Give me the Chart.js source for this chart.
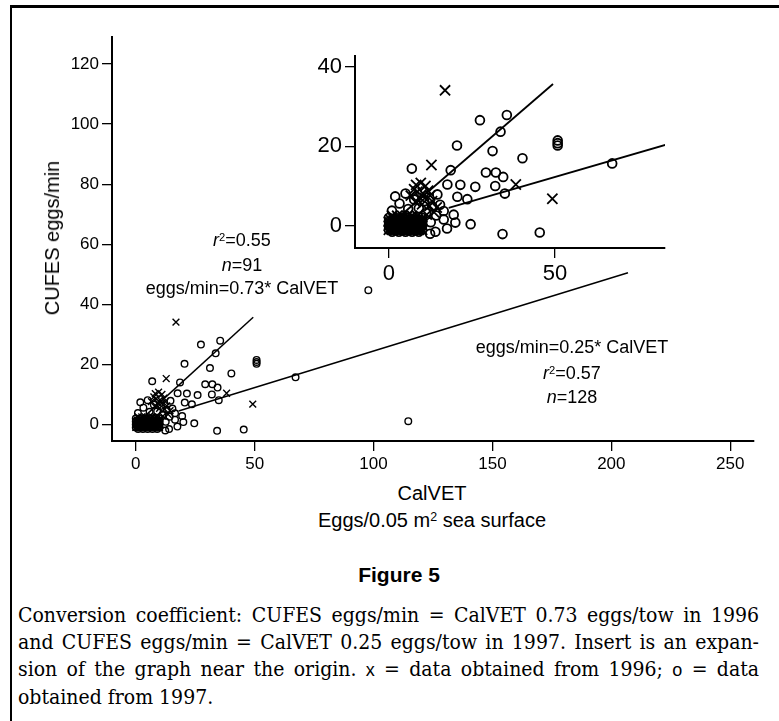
<!DOCTYPE html>
<html>
<head>
<meta charset="utf-8">
<script src="https://cdn.jsdelivr.net/npm/chart.js@4.4.0/dist/chart.umd.min.js"></script>
<style>
  html, body { margin: 0; padding: 0; background: #fff; }
  body { width: 779px; height: 721px; position: relative; overflow: hidden;
         font-family: 'Liberation Sans', Arial, sans-serif; color: #000; }
  .frame { position: absolute; left: 10px; top: 5px; width: 800px; height: 760px;
           border-top: 3px solid #000; border-left: 2px solid #000; }
  .t { position: absolute; transform: translate(-50%, -50%); white-space: nowrap; line-height: 1; }
  .sup { position: relative; top: -0.45em; font-size: 0.62em; }
  canvas { position: absolute; }
  .cap { position: absolute; left: 18px; top: 602px; width: 741px;
         font-family: 'DejaVu Serif', serif; font-stretch: condensed; font-size: 21px; line-height: 27px; }
  .cap div { white-space: nowrap; }
  .cap .j { text-align: justify; text-align-last: justify; }
  .cap .sf { font-family: 'Liberation Sans', Arial, sans-serif; font-size: 18px; }
</style>
</head>
<body>
<div class="frame"></div>

<canvas id="mainChart" width="779" height="480" style="left:0;top:0"></canvas>
<canvas id="insetChart" width="390" height="250" style="left:290px;top:40px"></canvas>

<!-- axis titles -->
<div class="t" style="left:52px;top:238px;font-size:20px;transform:translate(-50%,-50%) rotate(-90deg)">CUFES eggs/min</div>
<div class="t" style="left:432px;top:493px;font-size:20px">CalVET</div>
<div class="t" style="left:432px;top:520px;font-size:20px">Eggs/0.05 m<span class="sup">2</span> sea surface</div>

<!-- 1996 fit -->
<div class="t" style="left:242px;top:240px;font-size:18px"><i>r</i><span class="sup">2</span>=0.55</div>
<div class="t" style="left:242px;top:265px;font-size:18px"><i>n</i>=91</div>
<div class="t" style="left:242px;top:288px;font-size:18px">eggs/min=0.73* CalVET</div>

<!-- 1997 fit -->
<div class="t" style="left:572px;top:347px;font-size:18px">eggs/min=0.25* CalVET</div>
<div class="t" style="left:572px;top:373px;font-size:18px"><i>r</i><span class="sup">2</span>=0.57</div>
<div class="t" style="left:572px;top:397px;font-size:18px"><i>n</i>=128</div>

<div class="t" style="left:399px;top:574px;font-size:21px;font-weight:bold">Figure 5</div>

<div class="cap">
  <div class="j">Conversion coefficient: CUFES eggs/min = CalVET 0.73 eggs/tow in 1996</div>
  <div class="j">and CUFES eggs/min = CalVET 0.25 eggs/tow in 1997. Insert is an expan-</div>
  <div class="j">sion of the graph near the origin. <span class="sf">x</span> = data obtained from 1996; <span class="sf">o</span> = data</div>
  <div>obtained from 1997.</div>
</div>

<script>
// tick labels
const mainXTicks = [0, 50, 100, 150, 200, 250];
const mainYTicks = [0, 20, 40, 60, 80, 100, 120];
const insetXTicks = [0, 50];
const insetYTicks = [0, 20, 40];

// regression lines (end points)
const fit1996 = [[3, 2.2], [49.4, 35.7]];
const fit1997 = [[18, 4.5], [207, 50.5]];

// 1996 samples (x markers)
const pts1996 = [
  [16.9, 34.1], [12.8, 15.3], [38.2, 10.4], [49.2, 6.8],
  [8.2, 10.3], [9.6, 10.8], [11.0, 10.0], [8.6, 8.6], [10.2, 8.2], [11.8, 8.8],
  [9.2, 7.2], [10.8, 7.0], [12.4, 7.6], [7.6, 9.2], [13.0, 6.2], [12.2, 5.0],
  [14.4, 4.6], [8.0, 6.0], [6.6, 7.6], [10.0, 5.4], [13.6, 3.4], [11.4, 2.8],
  // dense cluster near the origin
  [0, 0], [1, 0], [2, 0], [3, 0], [4, 0], [5, 0], [6, 0], [7, 0], [8, 0], [9, 0], [10, 0],
  [0.5, 0.5], [1.5, 0.5], [2.5, 0.5], [3.5, 0.5], [4.5, 0.5], [5.5, 0.5], [6.5, 0.5], [7.5, 0.5], [8.5, 0.5], [9.5, 0.5],
  [0.5, -0.5], [1.5, -0.5], [2.5, -0.5], [3.5, -0.5], [4.5, -0.5], [5.5, -0.5], [6.5, -0.5], [7.5, -0.5], [8.5, -0.5], [9.5, -0.5],
  [0, 1], [1, 1], [2, 1], [3, 1], [4, 1], [5, 1], [6, 1], [7, 1], [8, 1], [9, 1], [10, 1],
  [0, -1], [1, -1], [2, -1], [3, -1], [4, -1], [5, -1], [6, -1], [7, -1], [8, -1], [9, -1], [10, -1],
  [0.5, 1.5], [1.5, 1.5], [2.5, 1.5], [3.5, 1.5], [4.5, 1.5], [5.5, 1.5], [6.5, 1.5], [7.5, 1.5], [8.5, 1.5], [9.5, 1.5],
  [1, 2.5], [2.5, 2.5], [4, 2.5], [5.5, 2.5], [7, 2.5], [8.5, 2.5]
];

// 1997 samples (o markers)
const pts1997 = [
  [27.4, 26.6], [35.5, 27.9], [33.6, 23.7], [20.5, 20.2], [31.2, 18.8],
  [50.8, 21.5], [50.8, 20.8], [50.8, 20.2], [40.2, 17.0], [6.9, 14.4],
  [18.6, 14.0], [67.2, 15.7], [29.2, 13.4], [32.2, 13.4], [34.4, 12.3],
  [17.6, 10.4], [21.5, 10.3], [26.0, 9.8], [32.0, 10.0], [34.9, 8.1],
  [20.6, 7.3], [23.6, 6.7], [1.9, 7.4], [5.0, 8.1], [14.6, 7.9],
  [0.9, 3.8], [16.5, 3.7], [19.5, 2.8], [16.5, 1.6], [20.0, 0.8],
  [24.6, 0.4], [17.5, -0.7], [12.4, -2.0], [14.0, -1.5], [34.2, -2.1],
  [45.4, -1.7], [97.8, 44.7], [114.6, 1.1],
  [15.4, 5.3], [13.0, 4.9], [10.6, 6.2], [3.2, 5.6], [7.6, 6.6], [11.2, 3.2],
  [14.2, 2.6], [12.6, 0.9], [9.0, 4.4], [5.8, 4.2],
  // dense cluster near the origin
  [0, 0], [0.5, 0], [1, 0], [1.5, 0], [2, 0], [2.5, 0], [3, 0], [3.5, 0], [4, 0], [4.5, 0], [5, 0],
  [5.5, 0], [6, 0], [6.5, 0], [7, 0], [7.5, 0], [8, 0], [8.5, 0], [9, 0], [9.5, 0], [10, 0],
  [0, -1], [1, -1], [2, -1], [3, -1], [4, -1], [5, -1], [6, -1], [7, -1], [8, -1], [9, -1], [10, -1],
  [0, 1], [1, 1], [2, 1], [3, 1], [4, 1], [5, 1], [6, 1], [7, 1], [8, 1], [9, 1], [10, 1],
  [0.5, -0.5], [1.5, -0.5], [2.5, -0.5], [3.5, -0.5], [4.5, -0.5], [5.5, -0.5], [6.5, -0.5], [7.5, -0.5], [8.5, -0.5], [9.5, -0.5],
  [0.5, 0.5], [1.5, 0.5], [2.5, 0.5], [3.5, 0.5], [4.5, 0.5], [5.5, 0.5], [6.5, 0.5], [7.5, 0.5], [8.5, 0.5], [9.5, 0.5],
  [1, -1.5], [3, -1.5], [5, -1.5], [7, -1.5], [9, -1.5],
  [1, 1.5], [3, 1.5], [5, 1.5], [7, 1.5], [9, 1.5],
  [0, 2], [2, 2], [4, 2], [6, 2], [8, 2], [10, 2]
];

Chart.defaults.font.family = "'Liberation Sans', Arial, sans-serif";
Chart.defaults.color = '#000';

const toXY = arr => arr.map(p => ({ x: p[0], y: p[1] }));

function axis(o, vals, min, max, fit) {
  return {
    type: 'linear', min: min, max: max,
    afterFit: fit,
    afterBuildTicks: s => { s.ticks = vals.map(v => ({ value: v })); },
    grid: { drawOnChartArea: false, drawTicks: true, tickLength: o.tl, color: '#000', lineWidth: 1.3 },
    border: { display: true, color: '#000', width: 2 },
    ticks: { color: '#000', font: { size: o.fs }, padding: o.tp, maxRotation: 0, autoSkip: false }
  };
}

function makeChart(id, o) {
  new Chart(document.getElementById(id), {
    type: 'scatter',
    data: {
      datasets: [
        { data: toXY(fit1996), showLine: true, borderColor: '#000', borderWidth: o.lw, pointRadius: 0 },
        { data: toXY(fit1997), showLine: true, borderColor: '#000', borderWidth: o.lw, pointRadius: 0 },
        { data: toXY(pts1996), pointStyle: 'crossRot', pointRadius: o.xr, borderColor: '#000',
          borderWidth: o.mw, backgroundColor: 'transparent' },
        { data: toXY(pts1997), pointStyle: 'circle', pointRadius: o.cr, borderColor: '#000',
          borderWidth: o.mw, backgroundColor: 'transparent' }
      ]
    },
    options: {
      responsive: false, animation: false, devicePixelRatio: 1, events: [],
      plugins: { legend: { display: false }, tooltip: { enabled: false } },
      layout: { padding: o.pad },
      scales: {
        x: axis(o, o.xTicks, o.xMin, o.xMax, s => { s.height = o.xH; }),
        y: axis(o, o.yTicks, o.yMin, o.yMax, s => { s.width = o.yW; })
      }
    }
  });
}

// full range plot
makeChart('mainChart', {
  xTicks: mainXTicks, yTicks: mainYTicks,
  xMin: -10, xMax: 260, yMin: -5.5, yMax: 129,
  pad: { left: 0, top: 37, right: 25, bottom: 0 }, xH: 39, yW: 112,
  tl: 10, tp: 3, fs: 17, lw: 1.5, mw: 1.4, xr: 4.8, cr: 3.3
});

// insert near the origin
makeChart('insetChart', {
  xTicks: insetXTicks, yTicks: insetYTicks,
  xMin: -10.2, xMax: 83.1, yMin: -5.6, yMax: 42.7,
  pad: { left: 0, top: 10, right: 15, bottom: 0 }, xH: 42, yW: 65,
  tl: 10, tp: 3, fs: 22, lw: 1.8, mw: 1.8, xr: 7.2, cr: 4.4
});
</script>
</body>
</html>
